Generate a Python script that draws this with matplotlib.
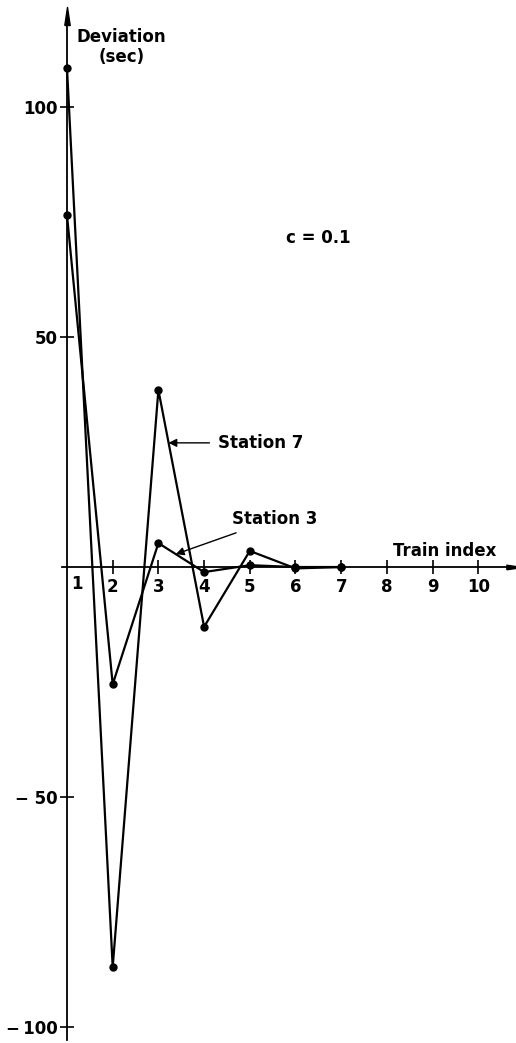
import matplotlib
matplotlib.use("Agg")
from matplotlib import pyplot as plt

# Deviation per train index, for two stations (c = 0.1)
train_index = [1, 2, 3, 4, 5, 6, 7]
station7 = [108.5, -87.0, 38.5, -13.0, 3.5, -0.3, 0.0]
station3 = [76.5, -25.5, 5.2, -1.1, 0.4, 0.0, 0.0]

xticks = [2, 3, 4, 5, 6, 7, 8, 9, 10]
yticks = [-100, -50, 50, 100]
ytick_labels = ["\u2212\u2009100", "\u2212 50", "50", "100"]

font = dict(family="DejaVu Sans", weight="bold")

fig = plt.figure(figsize=(5.16, 10.43), dpi=100)
ax = fig.add_axes([0, 0, 1, 1])
ax.set_xlim(-0.466, 10.825)
ax.set_ylim(-103.5, 123.3)

# Axes cross at (1, 0)
for side in ("top", "right"):
    ax.spines[side].set_visible(False)
ax.spines["left"].set_position(("data", 1))
ax.spines["bottom"].set_position(("data", 0))
ax.spines["left"].set_bounds(-102.8, 118)
ax.spines["bottom"].set_bounds(0.88, 10.7)
for s in ("left", "bottom"):
    ax.spines[s].set_linewidth(1.3)
ax.patch.set_visible(False)

ax.set_xticks(xticks)
ax.set_xticklabels([str(t) for t in xticks], fontsize=12, **font)
ax.set_yticks(yticks)
ax.set_yticklabels(ytick_labels, fontsize=12, **font)
ax.tick_params(axis="both", direction="inout", length=10, width=1.2, pad=2)
ax.tick_params(axis="x", pad=3)

# arrowheads on the axis ends
ax.plot(1, 119.8, marker=[(-0.3, -1), (0, 1), (0.3, -1), (-0.3, -1)],
        markersize=13, color="black", clip_on=False)
ax.plot(10.78, 0, marker=[(-1, -0.3), (1, 0), (-1, 0.3), (-1, -0.3)],
        markersize=11, color="black", clip_on=False)

ax.plot(train_index, station7, color="black", lw=1.6, marker="o", markersize=5)
ax.plot(train_index, station3, color="black", lw=1.6, marker="o", markersize=5)

ax.text(1.1, -1.8, "1", fontsize=12, ha="left", va="top", **font)
ax.text(2.18, 115.2, "Deviation", fontsize=12, ha="center", va="center", **font)
ax.text(2.2, 111.0, "(sec)", fontsize=12, ha="center", va="center", **font)
ax.text(9.27, 3.5, "Train index", fontsize=12, ha="center", va="center", **font)
ax.text(6.51, 71.5, "c = 0.1", fontsize=12, ha="center", va="center", **font)

ax.annotate("Station 7", xy=(3.22, 27.0), xytext=(4.30, 27.0),
            fontsize=12, ha="left", va="center", **font,
            arrowprops=dict(arrowstyle="-|>", color="black", lw=1.0,
                            mutation_scale=12, shrinkA=4, shrinkB=0))
ax.annotate("Station 3", xy=(3.38, 2.8), xytext=(4.61, 10.4),
            fontsize=12, ha="left", va="center", **font,
            arrowprops=dict(arrowstyle="-|>", color="black", lw=1.0,
                            mutation_scale=12, shrinkA=4, shrinkB=0))

fig.savefig("out.png", dpi=100)
